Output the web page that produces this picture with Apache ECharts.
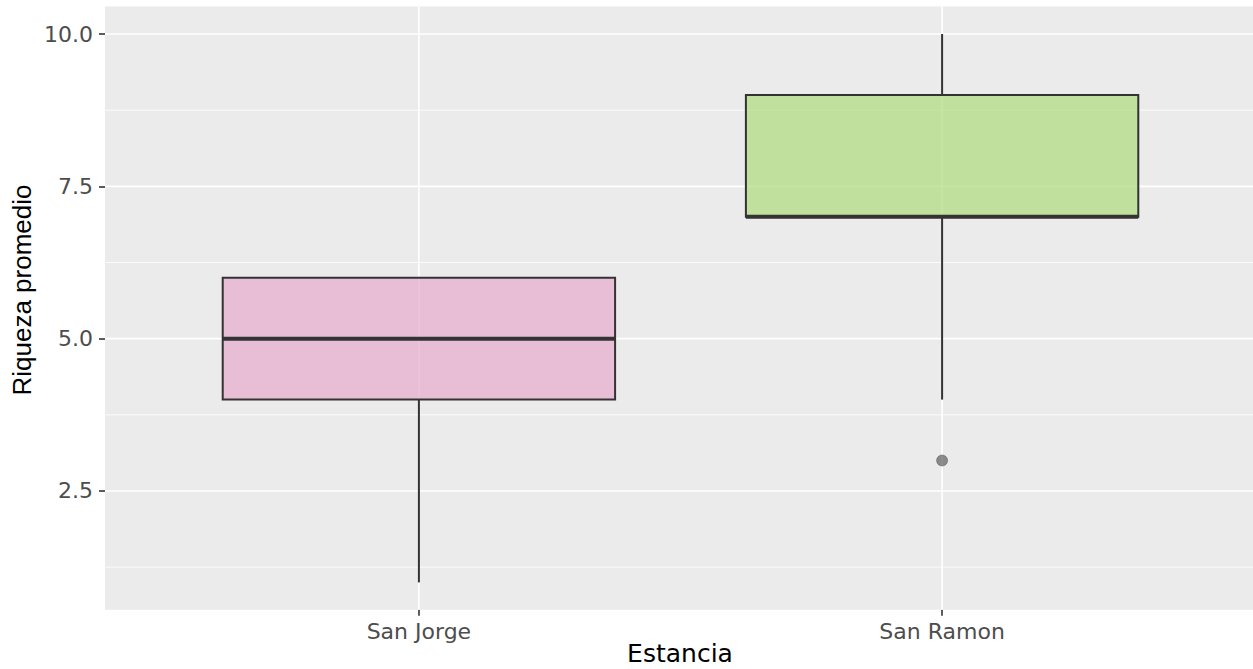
<!DOCTYPE html>
<html>
<head>
<meta charset="utf-8">
<script src="https://cdn.jsdelivr.net/npm/echarts@6/dist/echarts.min.js"></script>
<style>
  html, body { margin: 0; padding: 0; background: #fff; }
  #chart { width: 1253px; height: 669px; }
</style>
</head>
<body>
<div id="chart"></div>
<script>
// datos
const categories = ['San Jorge', 'San Ramon']
const lowWhisker = [1, 4]
const q1 = [4, 7]
const median = [5, 7]
const q3 = [6, 9]
const highWhisker = [6, 10]
const outlierCat = [2]
const outlierVal = [3]
const boxFill = ['rgba(231,175,208,0.75)', 'rgba(178,220,131,0.75)']

const yMajor = [2.5, 5, 7.5, 10]
const yMinor = [1.25, 3.75, 6.25, 8.75]
const yLabels = ['2.5', '5.0', '7.5', '10.0']
const xPos = [1, 2]

let myChart = echarts.init(document.getElementById('chart'), null, { renderer: 'svg' })

// lineas de la cuadricula (horizontales)
function hLine(width) {
  return function (params, api) {
    let cs = params.coordSys
    let y = api.coord([1, api.value(0)])[1]
    return {
      type: 'line',
      shape: { x1: cs.x, y1: y, x2: cs.x + cs.width, y2: y },
      style: { stroke: '#fff', lineWidth: width }
    }
  }
}

function vLine(params, api) {
  let cs = params.coordSys
  let x = api.coord([api.value(0), 5])[0]
  return {
    type: 'line',
    shape: { x1: x, y1: cs.y, x2: x, y2: cs.y + cs.height },
    style: { stroke: '#fff', lineWidth: 1.6 }
  }
}

// caja + bigotes
function renderBox(params, api) {
  let x = api.value(0)
  let half = api.size([0.75, 0])[0] / 2
  let cx = api.coord([x, 0])[0]
  let yLow = api.coord([x, api.value(1)])[1]
  let yQ1 = api.coord([x, api.value(2)])[1]
  let yMed = api.coord([x, api.value(3)])[1]
  let yQ3 = api.coord([x, api.value(4)])[1]
  let yHigh = api.coord([x, api.value(5)])[1]
  let stroke = '#333333'
  return {
    type: 'group',
    children: [
      { type: 'line', shape: { x1: cx, y1: yLow, x2: cx, y2: yQ1 }, style: { stroke: stroke, lineWidth: 2 } },
      { type: 'line', shape: { x1: cx, y1: yQ3, x2: cx, y2: yHigh }, style: { stroke: stroke, lineWidth: 2 } },
      {
        type: 'rect',
        shape: { x: cx - half, y: yQ3, width: half * 2, height: yQ1 - yQ3 },
        style: { fill: boxFill[params.dataIndex], stroke: stroke, lineWidth: 2 }
      },
      { type: 'line', shape: { x1: cx - half, y1: yMed, x2: cx + half, y2: yMed }, style: { stroke: stroke, lineWidth: 4 } }
    ]
  }
}

let boxData = categories.map((c, i) => [xPos[i], lowWhisker[i], q1[i], median[i], q3[i], highWhisker[i]])

let option = {
  backgroundColor: '#fff',
  animation: false,
  grid: {
    left: 105,
    right: -3,
    top: 6.6,
    bottom: 59.2,
    outerBoundsMode: 'none',
    containLabel: false,
    show: true,
    backgroundColor: '#EBEBEB',
    borderWidth: 0
  },
  // titulos de los ejes
  graphic: [
    {
      type: 'text',
      x: 680,
      y: 653,
      style: { text: 'Estancia', fill: '#000', font: '25px "DejaVu Sans"', align: 'center', verticalAlign: 'middle' }
    },
    {
      type: 'text',
      x: 22,
      y: 290,
      rotation: Math.PI / 2,
      style: { text: 'Riqueza promedio', fill: '#000', font: '26px "Liberation Sans"', align: 'center', verticalAlign: 'middle' }
    }
  ],
  xAxis: {
    type: 'value',
    min: 0.4,
    max: 2.6,
    axisLine: { show: false },
    axisTick: { show: true, customValues: xPos, length: 6, lineStyle: { color: '#333', width: 1.6 } },
    axisLabel: {
      customValues: xPos,
      color: '#4D4D4D',
      fontSize: 22,
      fontFamily: 'DejaVu Sans',
      margin: 11,
      formatter: v => categories[Math.round(v) - 1]
    },
    splitLine: { show: false }
  },
  yAxis: {
    type: 'value',
    min: 0.55,
    max: 10.45,
    axisLine: { show: false },
    axisTick: { show: true, customValues: yMajor, length: 6, lineStyle: { color: '#333', width: 1.6 } },
    axisLabel: {
      customValues: yMajor,
      color: '#4D4D4D',
      fontSize: 22,
      fontFamily: 'DejaVu Sans',
      margin: 12,
      formatter: v => yLabels[yMajor.indexOf(v)]
    },
    splitLine: { show: false }
  },
  series: [
    { type: 'custom', renderItem: hLine(0.8), data: yMinor.map(v => [v]), silent: true, z: 1 },
    { type: 'custom', renderItem: hLine(1.6), data: yMajor.map(v => [v]), silent: true, z: 1 },
    { type: 'custom', renderItem: vLine, data: xPos.map(v => [v]), silent: true, z: 1 },
    { type: 'custom', renderItem: renderBox, data: boxData, z: 2 },
    {
      type: 'scatter',
      data: outlierCat.map((c, i) => [c, outlierVal[i]]),
      symbolSize: 11,
      itemStyle: { color: 'rgba(70,70,70,0.75)', borderColor: '#444', borderWidth: 0.5 },
      z: 3
    }
  ]
}
myChart.setOption(option)
</script>
</body>
</html>
